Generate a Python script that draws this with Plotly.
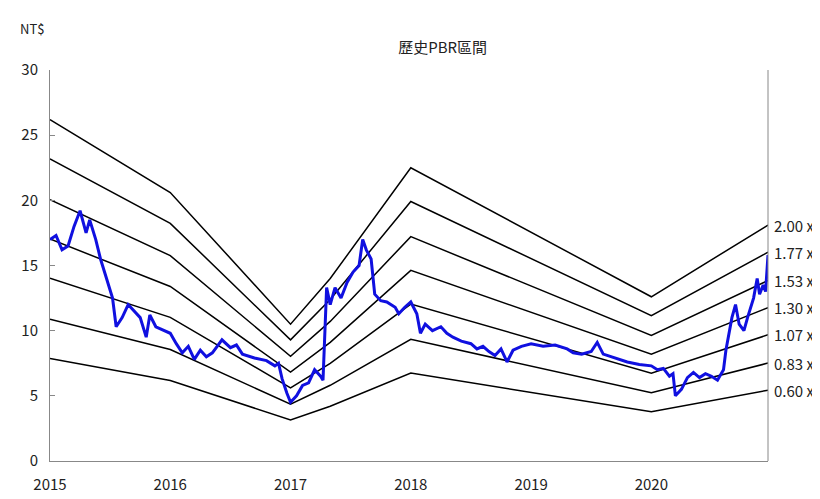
import plotly.graph_objects as go

band_x = [2015.0, 2016.0, 2017.0, 2017.33, 2018.0, 2020.0, 2020.97]
bvps = [13.1, 10.3, 5.25, 7.0, 11.25, 6.3, 9.05]
multiples = [2.00, 1.77, 1.53, 1.30, 1.07, 0.83, 0.60]

price_x = [2015.0,2015.05,2015.1,2015.15,2015.2,2015.25,2015.3,2015.33,2015.38,2015.42,2015.47,2015.52,2015.55,2015.6,2015.65,2015.7,2015.75,2015.8,2015.83,2015.88,2015.95,2016.0,2016.05,2016.1,2016.15,2016.2,2016.25,2016.3,2016.35,2016.43,2016.5,2016.55,2016.6,2016.7,2016.8,2016.87,2016.9,2016.93,2016.97,2017.0,2017.05,2017.1,2017.15,2017.2,2017.25,2017.27,2017.3,2017.33,2017.37,2017.42,2017.47,2017.52,2017.57,2017.6,2017.63,2017.67,2017.7,2017.75,2017.8,2017.87,2017.9,2017.95,2018.0,2018.05,2018.08,2018.12,2018.18,2018.25,2018.3,2018.35,2018.42,2018.5,2018.55,2018.6,2018.65,2018.7,2018.75,2018.8,2018.85,2018.92,2019.0,2019.1,2019.2,2019.3,2019.35,2019.42,2019.5,2019.55,2019.6,2019.7,2019.8,2019.9,2020.0,2020.05,2020.1,2020.15,2020.18,2020.2,2020.25,2020.3,2020.35,2020.4,2020.45,2020.5,2020.55,2020.6,2020.62,2020.67,2020.7,2020.73,2020.77,2020.8,2020.85,2020.88,2020.9,2020.93,2020.95,2020.97]
price_y = [17.0,17.3,16.2,16.5,18.0,19.2,17.5,18.5,17.0,15.5,14.0,12.5,10.3,11.0,12.0,11.5,11.0,9.5,11.2,10.3,10.0,9.8,9.0,8.3,8.8,7.8,8.5,8.0,8.3,9.3,8.7,8.9,8.2,7.9,7.7,7.3,7.5,6.3,5.2,4.5,5.0,5.8,6.0,7.0,6.5,6.2,13.3,12.0,13.3,12.5,13.7,14.5,15.0,17.0,16.2,15.5,12.8,12.3,12.2,11.8,11.3,11.8,12.2,11.3,9.8,10.5,10.0,10.3,9.8,9.5,9.2,9.0,8.6,8.8,8.4,8.1,8.6,7.6,8.5,8.8,9.0,8.8,8.9,8.6,8.3,8.2,8.4,9.1,8.2,7.9,7.6,7.4,7.3,7.0,7.1,6.5,6.7,5.0,5.5,6.4,6.8,6.4,6.7,6.5,6.2,7.0,8.5,11.0,12.0,10.5,10.0,11.0,12.5,14.0,12.8,13.5,13.0,15.8]

x_ticks = [2015, 2016, 2017, 2018, 2019, 2020]

FONT = "Noto Sans CJK TC"
fig = go.Figure()
for m in multiples:
    fig.add_trace(go.Scatter(x=band_x, y=[m * b for b in bvps], mode="lines",
                             line=dict(color="black", width=1.5), showlegend=False, hoverinfo="skip"))
    fig.add_annotation(x=band_x[-1], y=m * bvps[-1], text=f"{m:.2f} x", showarrow=False,
                       xanchor="left", xshift=4, font=dict(size=15, color="#222", family=FONT))
fig.add_trace(go.Scatter(x=price_x, y=price_y, mode="lines",
                         line=dict(color="#1010e0", width=3), showlegend=False))

fig.add_annotation(text="NT$", xref="paper", yref="paper", x=-0.045, y=1.135, showarrow=False,
                   xanchor="left", font=dict(size=13, color="#222", family=FONT))
fig.update_layout(
    width=820, height=499, plot_bgcolor="white", paper_bgcolor="white",
    margin=dict(l=42, r=60, t=62, b=46),
    title=dict(text="歷史PBR區間", x=0.53, y=0.93, xanchor="center", font=dict(size=15, color="#222", family=FONT)),
    xaxis=dict(range=[2015, 2020.97], tickvals=x_ticks, ticktext=[str(v) for v in x_ticks],
               showgrid=False, zeroline=False, showline=True, linecolor="#888", mirror=False,
               tickfont=dict(size=15, color="#222", family=FONT), ticks="", ticklabelstandoff=10),
    yaxis=dict(range=[0, 30], dtick=5, showgrid=False, zeroline=False, showline=True,
               linecolor="#888", ticks="inside", ticklen=5, tickcolor="#888", ticklabelstandoff=8,
               tickfont=dict(size=15, color="#222", family=FONT)),
)
fig.add_shape(type="line", xref="paper", yref="paper", x0=1, x1=1, y0=0, y1=1,
              line=dict(color="#888", width=1))
fig.write_html("out.html")
